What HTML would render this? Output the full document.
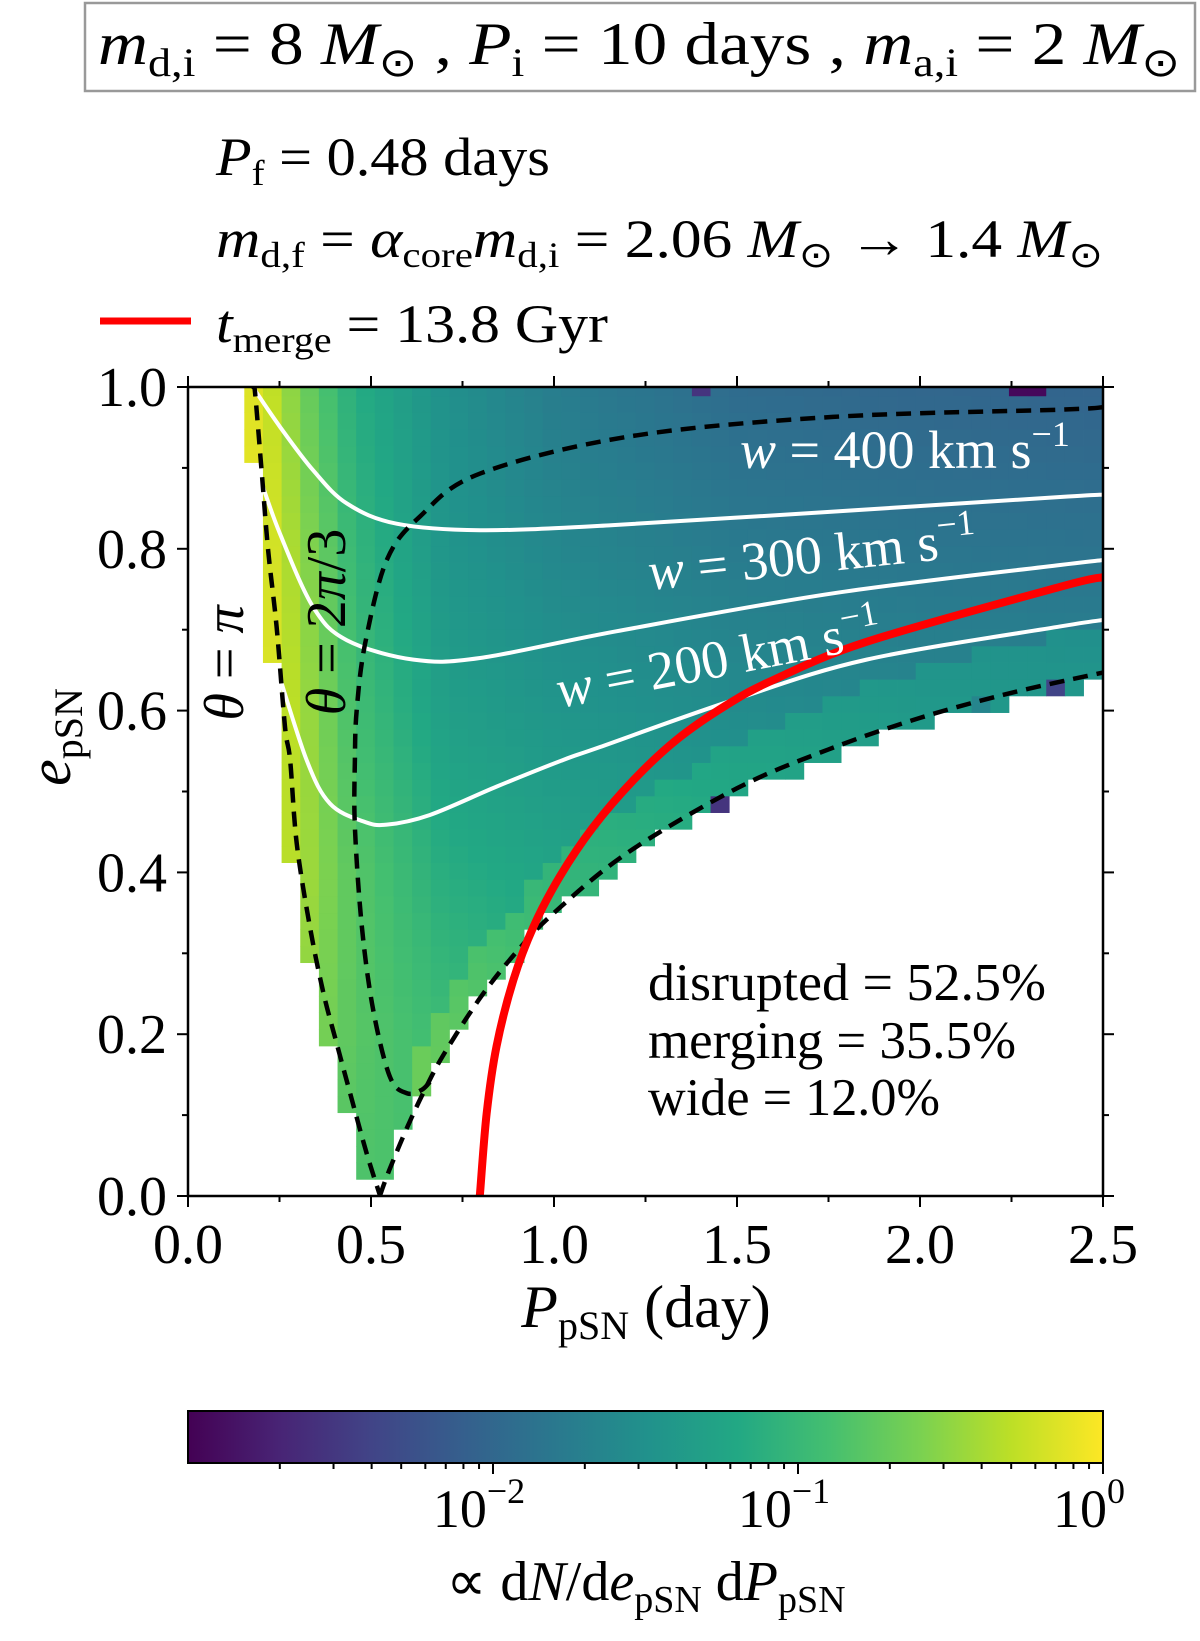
<!DOCTYPE html>
<html><head><meta charset="utf-8"><style>
html,body{margin:0;padding:0;background:#fff;}
svg{display:block;font-family:"Liberation Serif",serif;}
</style></head><body>
<svg id="fig" width="1200" height="1641" viewBox="0 0 1200 1641" xmlns="http://www.w3.org/2000/svg">
<defs>
<linearGradient id="vir" x1="0" x2="1" y1="0" y2="0">
<stop offset="0" stop-color="#440154"/><stop offset="0.1" stop-color="#482475"/><stop offset="0.2" stop-color="#414487"/><stop offset="0.3" stop-color="#355f8d"/><stop offset="0.4" stop-color="#2a788e"/><stop offset="0.5" stop-color="#21918c"/><stop offset="0.6" stop-color="#22a884"/><stop offset="0.7" stop-color="#44bf70"/><stop offset="0.8" stop-color="#7ad151"/><stop offset="0.9" stop-color="#bddf26"/><stop offset="1" stop-color="#fde725"/>
</linearGradient>
<clipPath id="plotclip"><rect x="188" y="387" width="915" height="809"/></clipPath>
</defs>

<rect x="85" y="3" width="1110" height="88" fill="#fff" stroke="#999" stroke-width="2.5"/>
<text x="98" y="64" font-size="60" textLength="1082" lengthAdjust="spacingAndGlyphs"><tspan font-style="italic">m</tspan><tspan font-size="40" dy="12">d,i</tspan><tspan dy="-12"> = 8 </tspan><tspan font-style="italic">M</tspan><tspan font-size="40" dy="12">⊙</tspan><tspan dy="-12"> , </tspan><tspan font-style="italic">P</tspan><tspan font-size="40" dy="12">i</tspan><tspan dy="-12"> = 10 days , </tspan><tspan font-style="italic">m</tspan><tspan font-size="40" dy="12">a,i</tspan><tspan dy="-12"> = 2 </tspan><tspan font-style="italic">M</tspan><tspan font-size="40" dy="12">⊙</tspan></text>

<text x="216" y="175" font-size="54" textLength="334" lengthAdjust="spacingAndGlyphs"><tspan font-style="italic">P</tspan><tspan font-size="36" dy="10">f</tspan><tspan dy="-10"> = 0.48 days</tspan></text>
<text x="216" y="257" font-size="54" textLength="887" lengthAdjust="spacingAndGlyphs"><tspan font-style="italic">m</tspan><tspan font-size="36" dy="10">d,f</tspan><tspan dy="-10"> = </tspan><tspan font-style="italic">α</tspan><tspan font-size="36" dy="10">core</tspan><tspan dy="-10" font-style="italic">m</tspan><tspan font-size="36" dy="10">d,i</tspan><tspan dy="-10"> = 2.06 </tspan><tspan font-style="italic">M</tspan><tspan font-size="36" dy="10">⊙</tspan><tspan dy="-10"> → 1.4 </tspan><tspan font-style="italic">M</tspan><tspan font-size="36" dy="10">⊙</tspan></text>
<line x1="100" y1="321" x2="191" y2="321" stroke="#ff0000" stroke-width="7"/>
<text x="216" y="342" font-size="54" textLength="392" lengthAdjust="spacingAndGlyphs"><tspan font-style="italic">t</tspan><tspan font-size="36" dy="10">merge</tspan><tspan dy="-10"> = 13.8 Gyr</tspan></text>

<g id="heat" clip-path="url(#plotclip)"></g>
<g id="curves" clip-path="url(#plotclip)"></g>
<g id="axes"></g>

<text transform="translate(243,663) rotate(-90)" text-anchor="middle" font-size="56"><tspan font-style="italic">θ</tspan> = <tspan font-style="italic">π</tspan></text>
<text transform="translate(345,622) rotate(-90)" text-anchor="middle" font-size="56"><tspan font-style="italic">θ</tspan> = 2<tspan font-style="italic">π</tspan>/3</text>
<text x="740" y="468" font-size="54" fill="#fff"><tspan font-style="italic">w</tspan> = 400 km s<tspan font-size="36" dy="-22">−1</tspan></text>
<text transform="translate(650,590) rotate(-6)" font-size="54" fill="#fff"><tspan font-style="italic">w</tspan> = 300 km s<tspan font-size="36" dy="-22">−1</tspan></text>
<text transform="translate(560,708) rotate(-11)" font-size="54" fill="#fff"><tspan font-style="italic">w</tspan> = 200 km s<tspan font-size="36" dy="-22">−1</tspan></text>

<text x="648" y="1000" font-size="53" textLength="398" lengthAdjust="spacingAndGlyphs">disrupted = 52.5%</text>
<text x="648" y="1058" font-size="53" textLength="368" lengthAdjust="spacingAndGlyphs">merging = 35.5%</text>
<text x="648" y="1115" font-size="53" textLength="292" lengthAdjust="spacingAndGlyphs">wide = 12.0%</text>

<text x="646" y="1327" text-anchor="middle" font-size="60"><tspan font-style="italic">P</tspan><tspan font-size="40" dy="12">pSN</tspan><tspan dy="-12"> (day)</tspan></text>
<text transform="translate(70,737) rotate(-90)" text-anchor="middle" font-size="60"><tspan font-style="italic">e</tspan><tspan font-size="40" dy="12">pSN</tspan></text>

<rect x="188" y="1411" width="915" height="52" fill="url(#vir)" stroke="#000" stroke-width="2"/>
<g id="cbticks"></g>
<text x="646" y="1600" text-anchor="middle" font-size="56">∝ d<tspan font-style="italic">N</tspan>/d<tspan font-style="italic">e</tspan><tspan font-size="38" dy="12">pSN</tspan><tspan dy="-12"> d</tspan><tspan font-style="italic">P</tspan><tspan font-size="38" dy="12">pSN</tspan></text>
</svg>
<script>
// ---- data ----
const xTicks=[0,0.5,1.0,1.5,2.0,2.5];
const xTickLabels=["0.0","0.5","1.0","1.5","2.0","2.5"];
const yTicks=[0,0.2,0.4,0.6,0.8,1.0];
const yTickLabels=["0.0","0.2","0.4","0.6","0.8","1.0"];
const cbTicks=[-2,-1,0];
const cbTickLabels=["−2","−1","0"];
// heatmap coarse density grid (log10), columns = gridP, rows = gridE
const gridP=[0.2,0.3,0.45,0.7,1.0,1.5,2.0,2.5];
const gridE=[0.0,0.2,0.4,0.6,0.8,1.0];
const gridLog=[
[-0.60,-0.66,-0.84,-0.90,-1.02,-1.14,-1.14,-1.14],
[-0.30,-0.45,-0.78,-0.96,-1.08,-1.14,-1.14,-1.14],
[-0.15,-0.36,-0.78,-1.14,-1.26,-1.32,-1.32,-1.32],
[-0.06,-0.36,-0.90,-1.32,-1.44,-1.56,-1.62,-1.62],
[-0.09,-0.45,-1.02,-1.44,-1.62,-1.77,-1.83,-1.86],
[-0.15,-0.60,-1.14,-1.50,-1.74,-1.95,-2.01,-2.04]];
// low-count cells
const outP=[0.436,0.641,0.485,0.384,0.179,1.406,2.25,2.33,1.842,1.454,2.375,2.17,1.29,1.60];
const outE=[0.072,0.092,0.010,0.174,0.866,0.99,0.99,0.99,0.545,0.48,0.62,0.60,0.436,0.51];
const outLog=[-1.5,-2.25,-2.4,-2.25,-1.9,-2.55,-2.94,-2.94,-2.64,-2.55,-2.4,-1.65,-2.25,-2.9];
// theta = pi boundary
const piP=[0.178,0.183,0.201,0.219,0.242,0.265,0.279,0.297,0.333,0.370,0.406,0.443,0.488,0.525];
const piE=[1.0,0.994,0.897,0.798,0.704,0.580,0.539,0.436,0.333,0.251,0.189,0.127,0.053,0];
// lower boundary
const lowP=[0.524,0.55,0.6,0.65,0.7,0.8,0.9,1.0,1.2,1.5,1.75,2.0,2.25,2.5];
const lowE=[0,0.032,0.086,0.134,0.176,0.246,0.303,0.35,0.424,0.504,0.552,0.591,0.622,0.647];
// theta = 2pi/3
const t23P=[2.5,2.383,1.762,1.208,0.798,0.634,0.543,0.484,0.461,0.456,0.456,0.475,0.506,0.552,0.598,0.638,0.661];
const t23E=[0.975,0.972,0.963,0.939,0.893,0.840,0.786,0.683,0.601,0.539,0.456,0.333,0.230,0.147,0.127,0.131,0.141];
// kick-velocity contours
const w400P=[0.18,0.251,0.342,0.434,0.570,0.798,1.15,1.763,2.383,2.5];
const w400E=[0.998,0.951,0.897,0.856,0.831,0.823,0.829,0.846,0.864,0.867];
const w300P=[0.197,0.251,0.342,0.434,0.616,0.798,1.17,1.763,2.383,2.5];
const w300E=[0.887,0.819,0.728,0.687,0.663,0.665,0.698,0.745,0.780,0.786];
const w200P=[0.242,0.324,0.388,0.479,0.543,0.661,0.843,1.025,1.126,1.490,1.854,2.383,2.5];
const w200E=[0.654,0.539,0.485,0.463,0.459,0.471,0.506,0.539,0.555,0.613,0.663,0.704,0.712];
// merger-time contour
const redP=[0.797,0.798,0.816,0.843,0.889,0.944,1.016,1.107,1.217,1.335,1.472,1.6,1.854,2.383,2.5];
const redE=[0,0.004,0.102,0.185,0.267,0.333,0.395,0.456,0.514,0.564,0.607,0.638,0.685,0.753,0.765];

// ---- scales ----
const X=p=>188+366*p, Y=e=>1196-809*e;
const NS="http://www.w3.org/2000/svg";
const vir=["#440154","#482475","#414487","#355f8d","#2a788e","#21918c","#22a884","#44bf70","#7ad151","#bddf26","#fde725"];
function hex(c){return [parseInt(c.slice(1,3),16),parseInt(c.slice(3,5),16),parseInt(c.slice(5,7),16)];}
function cmap(lg){let f=Math.max(0,Math.min(1,(lg+3)/3))*10;let i=Math.min(9,Math.floor(f)),t=f-i;const a=hex(vir[i]),b=hex(vir[i+1]);
return "rgb("+a.map((v,k)=>Math.round(v+(b[k]-v)*t)).join(",")+")";}
function interp(xs,ys,x){if(x<=xs[0])return ys[0];for(let i=1;i<xs.length;i++){if(x<=xs[i]){const t=(x-xs[i-1])/(xs[i]-xs[i-1]);return ys[i-1]+t*(ys[i]-ys[i-1]);}}return ys[ys.length-1];}
function idx(xs,x){let i=0;while(i<xs.length-2&&x>xs[i+1])i++;return i;}
function grid(p,e){p=Math.max(gridP[0],Math.min(2.5,p));e=Math.max(0,Math.min(1,e));
const i=idx(gridP,p),j=idx(gridE,e);const tp=(p-gridP[i])/(gridP[i+1]-gridP[i]),te=(e-gridE[j])/(gridE[j+1]-gridE[j]);
const a=gridLog[j][i],b=gridLog[j][i+1],c=gridLog[j+1][i],d=gridLog[j+1][i+1];
return (a*(1-tp)+b*tp)*(1-te)+(c*(1-tp)+d*tp)*te;}
const piEr=piE.slice().reverse(), piPr=piP.slice().reverse();

// ---- heatmap ----
const heat=document.getElementById('heat');
const cw=18.65, ch=16.67;
for(let k=0;k<47;k++){
  const x0=244.3+cw*k; if(x0>=1103)break; const x1=Math.min(x0+cw,1103);
  const pL=(x0-188)/366,pR=(x1-188)/366,pC=(pL+pR)/2;
  for(let j=0;j<60;j++){
    const yb=1196-ch*j; if(yb<=387)break; const yt=Math.max(yb-ch,387);
    const eB=(1196-yb)/809,eT=(1196-yt)/809,eC=(eB+eT)/2;
    if(pR<interp(piEr,piPr,eT)+0.008)continue;
    if(pR>0.524 && eT<interp(lowP,lowE,pR)-0.004)continue;
    let lg=grid(pC,eC);
    if(pC>0.6 && eC-interp(lowP,lowE,pC)<0.06) lg+=0.22;
    for(let m=0;m<outP.length;m++){if(outP[m]>=pL&&outP[m]<pR&&outE[m]>=eB&&outE[m]<eT)lg=outLog[m];}
    const r=document.createElementNS(NS,'rect');
    r.setAttribute('x',x0);r.setAttribute('y',yt);r.setAttribute('width',x1-x0+0.4);r.setAttribute('height',yb-yt+0.4);
    r.setAttribute('fill',cmap(lg));
    
    
    heat.appendChild(r);
  }
}

// ---- curves ----
function smoothPath(ps,es){const pts=ps.map((p,i)=>[X(p),Y(es[i])]);let d="M"+pts[0][0]+","+pts[0][1];
for(let i=0;i<pts.length-1;i++){const p0=pts[i-1]||pts[i],p1=pts[i],p2=pts[i+1],p3=pts[i+2]||p2;
const c1=[p1[0]+(p2[0]-p0[0])/6,p1[1]+(p2[1]-p0[1])/6],c2=[p2[0]-(p3[0]-p1[0])/6,p2[1]-(p3[1]-p1[1])/6];
d+=" C"+c1.join(",")+" "+c2.join(",")+" "+p2.join(",");}return d;}
const curves=document.getElementById('curves');
function addCurve(ps,es,stroke,w,dash,name){const p=document.createElementNS(NS,'path');
p.setAttribute('d',smoothPath(ps,es));p.setAttribute('fill','none');p.setAttribute('stroke',stroke);p.setAttribute('stroke-width',w);
if(dash)p.setAttribute('stroke-dasharray',dash);


curves.appendChild(p);}
addCurve(w400P,w400E,'#fff',4,null,'w400-contour');
addCurve(w300P,w300E,'#fff',4,null,'w300-contour');
addCurve(w200P,w200E,'#fff',4,null,'w200-contour');
addCurve(piP,piE,'#000',4.5,'15,9','theta-pi-boundary');
addCurve(lowP,lowE,'#000',4.5,'15,9','lower-boundary');
addCurve(t23P,t23E,'#000',4.5,'15,9','theta-2pi3-curve');
addCurve(redP,redE,'#ff0000',8,null,'tmerge-contour');

// ---- axes ----
const axes=document.getElementById('axes');
function line(x1,y1,x2,y2,w,name){const l=document.createElementNS(NS,'line');l.setAttribute('x1',x1);l.setAttribute('y1',y1);l.setAttribute('x2',x2);l.setAttribute('y2',y2);l.setAttribute('stroke','#000');l.setAttribute('stroke-width',w);


return l;}
function txt(x,y,s,anchor,size,name){const t=document.createElementNS(NS,'text');t.setAttribute('x',x);t.setAttribute('y',y);t.setAttribute('text-anchor',anchor);t.setAttribute('font-size',size);t.textContent=s;


return t;}
const frame=document.createElementNS(NS,'rect');
frame.setAttribute('x',188);frame.setAttribute('y',387);frame.setAttribute('width',915);frame.setAttribute('height',809);
frame.setAttribute('fill','none');frame.setAttribute('stroke','#000');frame.setAttribute('stroke-width',2.5);


axes.appendChild(frame);
for(let v=0;v<=2.5001;v+=0.25){const maj=Math.abs(v*2-Math.round(v*2))<1e-6;const L=maj?11:6;
axes.appendChild(line(X(v),1196,X(v),1196+L,2,'x-tick'));axes.appendChild(line(X(v),387,X(v),387-L,2,'x-tick-top'));}
for(let v=0;v<=1.0001;v+=0.1){const maj=Math.round(v*10)%2===0;const L=maj?11:6;
axes.appendChild(line(188,Y(v),188-L,Y(v),2,'y-tick'));axes.appendChild(line(1103,Y(v),1103+L,Y(v),2,'y-tick-right'));}
xTicks.forEach((v,i)=>axes.appendChild(txt(X(v),1263,xTickLabels[i],'middle',56,'x-tick-label')));
yTicks.forEach((v,i)=>axes.appendChild(txt(167,Y(v)+19,yTickLabels[i],'end',56,'y-tick-label')));

// ---- colorbar ticks ----
const cb=document.getElementById('cbticks');
const CX=lg=>1103+(lg)*305;
for(let d=-3;d<0;d++){for(let m=2;m<=10;m++){const lg=d+Math.log10(m);if(lg<-2.995)continue;const maj=(m===10);
cb.appendChild(line(CX(lg),1463,CX(lg),1463+(maj?11:6),2,'colorbar-tick'));}}
cbTicks.forEach((v,i)=>{const t=document.createElementNS(NS,'text');t.setAttribute('x',CX(v)-14);t.setAttribute('y',1527);t.setAttribute('text-anchor','middle');t.setAttribute('font-size',54);
t.innerHTML='10<tspan font-size="36" dy="-24">'+cbTickLabels[i]+'</tspan>';


cb.appendChild(t);});
</script>
</body></html>
